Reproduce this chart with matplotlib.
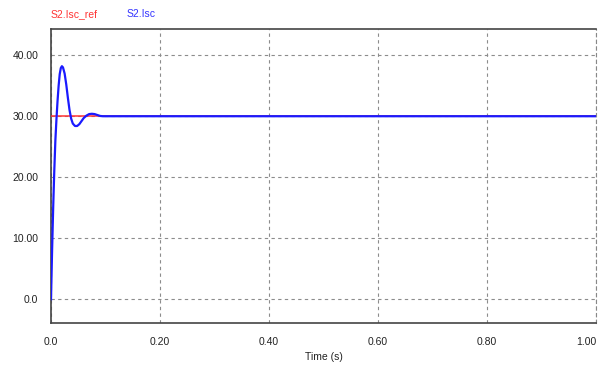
import matplotlib
matplotlib.use("Agg")
import matplotlib.pyplot as plt

# Data
t_ref = [0.0, 1.0]
isc_ref = [30.0, 30.0]

t_isc = [0.000, 0.002, 0.004, 0.006, 0.008, 0.010, 0.012, 0.014, 0.016, 0.018,
         0.020, 0.022, 0.025, 0.028, 0.031, 0.034, 0.037, 0.040, 0.044, 0.048,
         0.052, 0.056, 0.060, 0.065, 0.070, 0.075, 0.080, 0.085, 0.090, 0.095, 1.0]
isc = [0.0, 8.0, 15.0, 21.0, 26.0, 29.5, 32.5, 35.0, 36.9, 37.9,
       38.2, 38.0, 37.0, 35.2, 33.0, 31.0, 29.6, 28.8, 28.4, 28.4,
       28.7, 29.2, 29.7, 30.1, 30.35, 30.4, 30.35, 30.2, 30.05, 30.0, 30.0]

xticks = [0.0, 0.2, 0.4, 0.6, 0.8, 1.0]
xtick_labels = ["0.0", "0.20", "0.40", "0.60", "0.80", "1.00"]
yticks = [0, 10, 20, 30, 40]
ytick_labels = ["0.0", "10.00", "20.00", "30.00", "40.00"]

plt.rcParams['font.family'] = ['Liberation Sans Narrow', 'Liberation Sans', 'DejaVu Sans']

fig = plt.figure(figsize=(6.01, 3.70), dpi=100)
ax = fig.add_axes([51/601, 1 - 323/370, (596-51)/601, (323-29)/370])

ax.plot(t_ref, isc_ref, color="#ff3333", lw=1.1, zorder=3)
ax.plot(t_isc, isc, color="#1a1aff", lw=1.6, zorder=4)

ax.set_xlim(0, 1.0)
ax.set_ylim(-3.9, 44.3)
ax.set_xticks(xticks)
ax.set_xticklabels(xtick_labels)
ax.set_yticks(yticks)
ax.set_yticklabels(ytick_labels)
ax.tick_params(length=0, labelsize=7.5, colors="#222222", pad=9)
ax.tick_params(axis='x', pad=10)
xl = ax.get_xticklabels()
xl[-1].set_horizontalalignment('right')
ax.grid(True, color="#8c8c8c", linestyle=(0, (3, 3)), lw=0.8)

for s in ['left', 'bottom', 'top']:
    ax.spines[s].set_color("#444444")
    ax.spines[s].set_linewidth(1.2)
ax.spines['right'].set_color("#888888")
ax.spines['right'].set_linestyle((0, (3, 3)))

ax.set_xlabel("Time (s)", fontsize=7.5, color="#222222", labelpad=4)

fig.text(51/601, 1 - 14/370, "S2.Isc_ref", color="#ff3333", fontsize=7.5, va="center", ha="left")
fig.text(127/601, 1 - 14/370, "S2.Isc", color="#3333ff", fontsize=7.5, va="center", ha="left")

fig.savefig("out.png", dpi=100)
